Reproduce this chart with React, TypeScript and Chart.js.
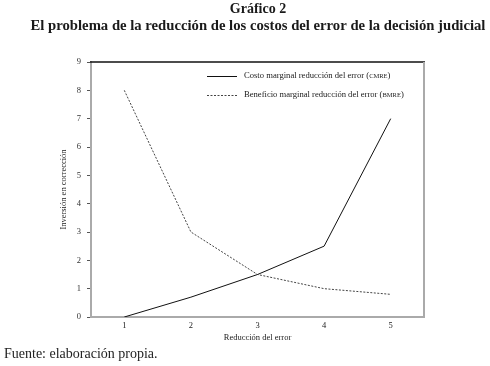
import React, { useEffect, useRef } from "react";
import { Chart, registerables } from "chart.js";

Chart.register(...registerables);

const titleLines = ["Gráfico 2", "El problema de la reducción de los costos del error de la decisión judicial"];
const sourceText = "Fuente: elaboración propia.";
const xLabels = ["1", "2", "3", "4", "5"];
const cmre = [0, 0.7, 1.5, 2.5, 7];
const bmre = [8, 3, 1.5, 1, 0.8];
const cmreLabel = "Costo marginal reducción del error";
const cmreAbbr = "CMRE";
const bmreLabel = "Beneficio marginal reducción del error";
const bmreAbbr = "BMRE";
const xTitle = "Reducción del error";
const yTitle = "Inversión en corrección";

const SERIF = "'Liberation Serif', 'DejaVu Serif', serif";

const decorPlugin = {
  id: "decor",
  afterDraw(chart: any) {
    const ctx = chart.ctx;
    const a = chart.chartArea;
    ctx.save();
    // frame top (black) and right (gray)
    ctx.strokeStyle = "#111";
    ctx.lineWidth = 1.5;
    ctx.beginPath();
    ctx.moveTo(a.left - 1, a.top);
    ctx.lineTo(a.right + 1, a.top);
    ctx.stroke();
    ctx.strokeStyle = "#aaa";
    ctx.lineWidth = 2;
    ctx.beginPath();
    ctx.moveTo(a.right, a.top);
    ctx.lineTo(a.right, a.bottom);
    ctx.stroke();

    // titles
    ctx.fillStyle = "#1a1a1a";
    ctx.textAlign = "center";
    ctx.textBaseline = "middle";
    ctx.font = "bold 14px " + SERIF;
    ctx.fillText(titleLines[0], 258, 9);
    ctx.font = "bold 14.7px " + SERIF;
    ctx.fillText(titleLines[1], 258, 26);

    // source
    ctx.textAlign = "left";
    ctx.font = "14px " + SERIF;
    ctx.fillStyle = "#222";
    ctx.fillText(sourceText, 4, 354);

    // legend
    const entries = [
      { label: cmreLabel, abbr: cmreAbbr, ds: chart.data.datasets[0], y: 76 },
      { label: bmreLabel, abbr: bmreAbbr, ds: chart.data.datasets[1], y: 95 },
    ];
    entries.forEach((e) => {
      ctx.strokeStyle = e.ds.borderColor;
      ctx.lineWidth = 1;
      ctx.setLineDash(e.ds.borderDash || []);
      ctx.beginPath();
      ctx.moveTo(207, e.y + 0.5);
      ctx.lineTo(237, e.y + 0.5);
      ctx.stroke();
      ctx.setLineDash([]);
      ctx.fillStyle = "#1a1a1a";
      let x = 244;
      ctx.font = "8.6px " + SERIF;
      const t1 = e.label + " (";
      ctx.fillText(t1, x, e.y);
      x += ctx.measureText(t1).width;
      ctx.font = "6.5px " + SERIF;
      ctx.fillText(e.abbr, x, e.y + 0.5);
      x += ctx.measureText(e.abbr).width;
      ctx.font = "8.6px " + SERIF;
      ctx.fillText(")", x, e.y);
    });
    ctx.restore();
  },
};

export default function App() {
  const ref = useRef<HTMLCanvasElement>(null);
  useEffect(() => {
    if (!ref.current) return;
    const chart = new Chart(ref.current, {
      type: "line",
      data: {
        labels: xLabels,
        datasets: [
          {
            label: cmreLabel,
            data: cmre,
            borderColor: "#111",
            borderWidth: 1,
            pointRadius: 0,
            tension: 0,
            fill: false,
          },
          {
            label: bmreLabel,
            data: bmre,
            borderColor: "#444",
            borderWidth: 1,
            borderDash: [2, 1.5],
            pointRadius: 0,
            tension: 0,
            fill: false,
          },
        ],
      },
      options: {
        animation: false,
        responsive: false,
        devicePixelRatio: 1,
        layout: { padding: { top: 62, right: 66, bottom: 19, left: 55 } },
        plugins: {
          legend: { display: false },
          title: { display: false },
          tooltip: { enabled: false },
        },
        scales: {
          x: {
            type: "category",
            offset: true,
            grid: { display: false, drawTicks: false },
            border: { display: true, color: "#aaa", width: 2 },
            ticks: { color: "#222", font: { family: SERIF, size: 8.5 }, padding: 4, maxRotation: 0 },
            title: { display: true, text: xTitle, color: "#222", font: { family: SERIF, size: 8.5 }, padding: { top: 4, bottom: 4 } },
            afterFit(scale: any) {
              scale.height = 30;
            },
          },
          y: {
            min: 0,
            max: 9,
            ticks: { stepSize: 1, color: "#333", font: { family: SERIF, size: 8.5 }, padding: 6 },
            grid: { display: true, drawOnChartArea: false, drawTicks: true, tickLength: 4, color: "#555" },
            border: { display: true, color: "#aaa", width: 2 },
            title: { display: true, text: yTitle, color: "#222", font: { family: SERIF, size: 8.5 }, padding: { top: 4, bottom: 4 } },
            afterFit(scale: any) {
              scale.width = 36;
            },
          },
        },
      },
      plugins: [decorPlugin],
    });
    return () => chart.destroy();
  }, []);
  return (
    <div style={{ position: "fixed", left: 0, top: 0, width: 490, height: 366, background: "#fff" }}>
      <canvas ref={ref} width={490} height={366} style={{ width: 490, height: 366, display: "block" }} />
    </div>
  );
}
